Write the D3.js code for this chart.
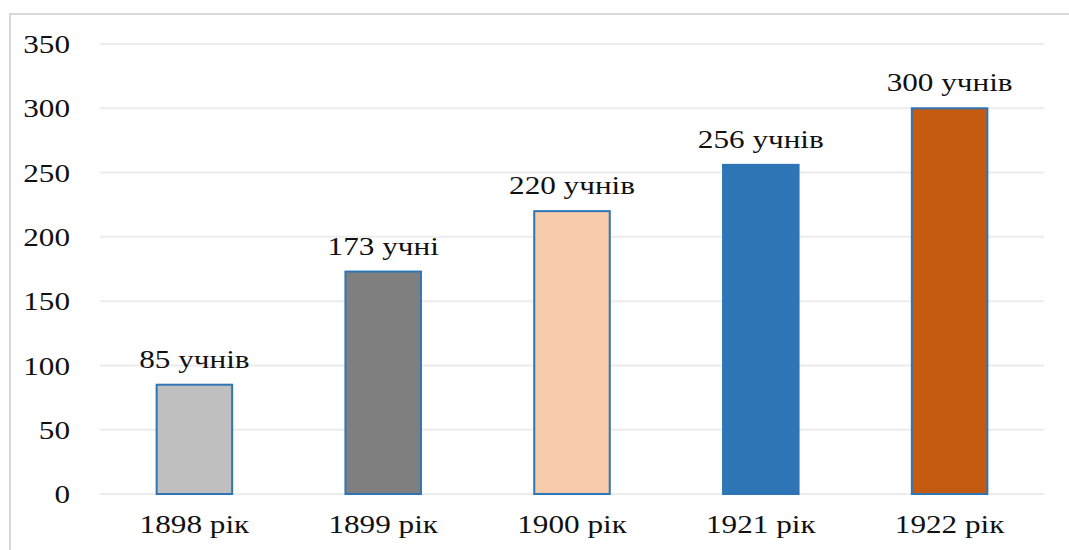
<!DOCTYPE html>
<html><head><meta charset="utf-8">
<script src="https://cdn.jsdelivr.net/npm/d3@7"></script>
<style>body{margin:0;background:#fff}svg{display:block}
svg text{font-family:"Liberation Serif","Times New Roman",serif;font-size:26px;fill:#111}</style>
</head><body>
<svg id="c" width="1069" height="550"></svg>
<script>
const categories = ["1898 рік","1899 рік","1900 рік","1921 рік","1922 рік"];
const values = [85,173,220,256,300];
const valueLabels = ["85 учнів","173 учні","220 учнів","256 учнів","300 учнів"];
const barColors = ["#BFBFBF","#7F7F7F","#F8CBAD","#2E75B6","#C55A11"];
const yTicks = [0,50,100,150,200,250,300,350];

const svg = d3.select("#c");
const SX = 1.2;

// frame
svg.append("path").attr("d","M10,551 V14 H1070").attr("fill","none").attr("stroke","#d9d9d9").attr("stroke-width",2);

const x = d3.scaleBand().domain(categories).range([100,1044]).paddingInner(0.6).paddingOuter(0.3);
const y = d3.scaleLinear().domain([0,350]).range([494,44]);

// gridlines
svg.append("g").selectAll("line").data(yTicks).join("line")
  .attr("x1",100).attr("x2",1044)
  .attr("y1",d=>y(d)).attr("y2",d=>y(d))
  .attr("stroke","#ececec").attr("stroke-width",2);

// y axis labels
const ya = svg.append("g").attr("transform","translate(70,0)")
  .call(d3.axisLeft(y).tickValues(yTicks).tickSize(0).tickPadding(0));
ya.select(".domain").remove();
ya.attr("font-family",null).attr("font-size",null);
ya.selectAll("text").attr("x",0).attr("dy","0.33em")
  .attr("transform",`scale(${SX},1)`).attr("fill",null);

// bars
svg.append("g").selectAll("rect").data(values).join("rect")
  .attr("x",(d,i)=>x(categories[i]))
  .attr("width",x.bandwidth())
  .attr("y",d=>y(d))
  .attr("height",d=>y(0)-y(d))
  .attr("fill",(d,i)=>barColors[i])
  .attr("stroke","#2E75B6").attr("stroke-width",2);

// x axis labels
const xa = svg.append("g").attr("transform","translate(0,533)")
  .call(d3.axisBottom(x).tickSize(0).tickPadding(0));
xa.select(".domain").remove();
xa.attr("font-family",null).attr("font-size",null);
xa.selectAll("text").attr("y",0).attr("dy",null)
  .attr("transform",`scale(${SX},1)`).attr("fill",null);

// value labels
svg.append("g").selectAll("text").data(values).join("text")
  .attr("transform",(d,i)=>`translate(${x(categories[i])+x.bandwidth()/2},${y(d)-17}) scale(${SX},1)`)
  .attr("text-anchor","middle")
  .text((d,i)=>valueLabels[i]);
</script>
</body></html>
